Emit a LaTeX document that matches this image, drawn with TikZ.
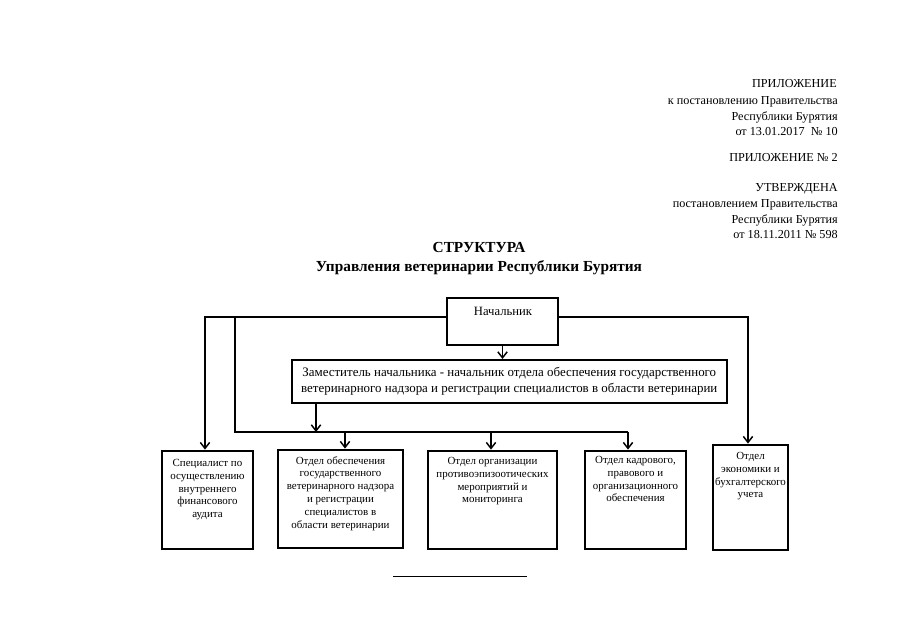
\documentclass[tikz,border=0pt]{standalone}
\usepackage{fontspec}
\setmainfont{Liberation Serif}
\usetikzlibrary{arrows.meta}
\begin{document}
\begin{tikzpicture}[x=0.75pt,y=-0.75pt,
  hdr/.style={anchor=base east,inner sep=0pt,font=\fontsize{9.15}{11}\selectfont},
  ttl/.style={inner sep=0pt,font=\fontsize{11.5}{13}\selectfont\bfseries},
  box/.style={draw,line width=2.1pt,inner sep=0pt},
  thinbox/.style={draw,line width=1.5pt,inner sep=0pt},
  btxt/.style={anchor=north,align=center,inner sep=0pt,font=\fontsize{8.2}{9.6}\selectfont},
  conn/.style={line width=1.1pt},
  arr/.style={conn,-{Straight Barb[length=4.5pt,width=7pt,line width=1.1pt]}}]
\useasboundingbox[fill=white] (0,0) rectangle (905,640);

% header
\node[hdr] (h1) at (837,87) {ПРИЛОЖЕНИЕ};
\node[hdr] (h2) at (838,104) {к постановлению Правительства};
\node[hdr] (h3) at (838,120) {Республики Бурятия};
\node[hdr] (h4) at (838,135) {от 13.01.2017\ \ № 10};
\node[hdr] (h5) at (838,161) {ПРИЛОЖЕНИЕ № 2};
\node[hdr] (h6) at (838,191) {УТВЕРЖДЕНА};
\node[hdr] (h7) at (838,207) {постановлением Правительства};
\node[hdr] (h8) at (838,223) {Республики Бурятия};
\node[hdr] (h9) at (838,238) {от 18.11.2011 № 598};

% title
\node[ttl] (t1) at (479,247) {СТРУКТУРА};
\node[ttl] (t2) at (479,268) {Управления ветеринарии Республики Бурятия};

% boxes
\node[thinbox,minimum width=83.25pt,minimum height=35.25pt] (boss) at (502.5,321.5) {};
\node[inner sep=0pt,font=\fontsize{9.5}{11}\selectfont] (bosst) at (503,311) {Начальник};

\node[thinbox,minimum width=326.6pt,minimum height=32.25pt] (dep) at (509.25,381.5) {};
\node[inner sep=0pt,align=center,font=\fontsize{9.7}{12.2}\selectfont] (dept) at (509.25,381.5) {Заместитель начальника - начальник отдела обеспечения государственного\\ветеринарного надзора и регистрации специалистов в области ветеринарии};

\node[box,minimum width=68.25pt,minimum height=73.5pt] (b1) at (207.5,500) {};
\node[btxt] (b1t) at (207.5,459) {Специалист по\\осуществлению\\внутреннего\\финансового\\аудита};

\node[box,minimum width=93.75pt,minimum height=73.5pt] (b2) at (340.5,499) {};
\node[btxt] (b2t) at (340.5,456) {Отдел обеспечения\\государственного\\ветеринарного надзора\\и регистрации\\специалистов в\\области ветеринарии};

\node[box,minimum width=96.75pt,minimum height=73.5pt] (b3) at (492.5,500) {};
\node[btxt] (b3t) at (492.5,457) {Отдел организации\\противоэпизоотических\\мероприятий и\\мониторинга};

\node[box,minimum width=75.75pt,minimum height=73.5pt] (b4) at (635.5,500) {};
\node[btxt] (b4t) at (635.5,456) {Отдел кадрового,\\правового и\\организационного\\обеспечения};

\node[box,minimum width=56.25pt,minimum height=78.75pt] (b5) at (750.5,497.5) {};
\node[btxt] (b5t) at (750.5,452) {Отдел\\экономики и\\бухгалтерского\\учета};

% junction coordinates
\coordinate (jL) at (205,317);
\coordinate (jB) at (235,317);
\coordinate (jR) at (748,317);
\coordinate (busL) at (235,432);
\coordinate (busR) at (628,432);
\coordinate (d1) at (316,432);
\coordinate (s2) at (345,432);
\coordinate (s3) at (491,432);

% connectors
\draw[arr] (boss.west |- jL) -- (jL) -- (b1.north -| jL);
\draw[conn] (jB) -- (busL) -- (busR);
\draw[arr] (busR) -- (b4.north -| busR);
\draw[arr] (s2) -- (b2.north -| s2);
\draw[arr] (s3) -- (b3.north -| s3);
\draw[arr] (dep.south -| d1) -- (d1);
\draw[arr] (boss.south) -- (dep.north -| boss.south);
\draw[arr] (boss.east |- jR) -- (jR) -- (b5.north -| jR);

% footnote rule
\draw[line width=0.6pt] (393,576) -- (527,576);
\end{tikzpicture}
\end{document}
